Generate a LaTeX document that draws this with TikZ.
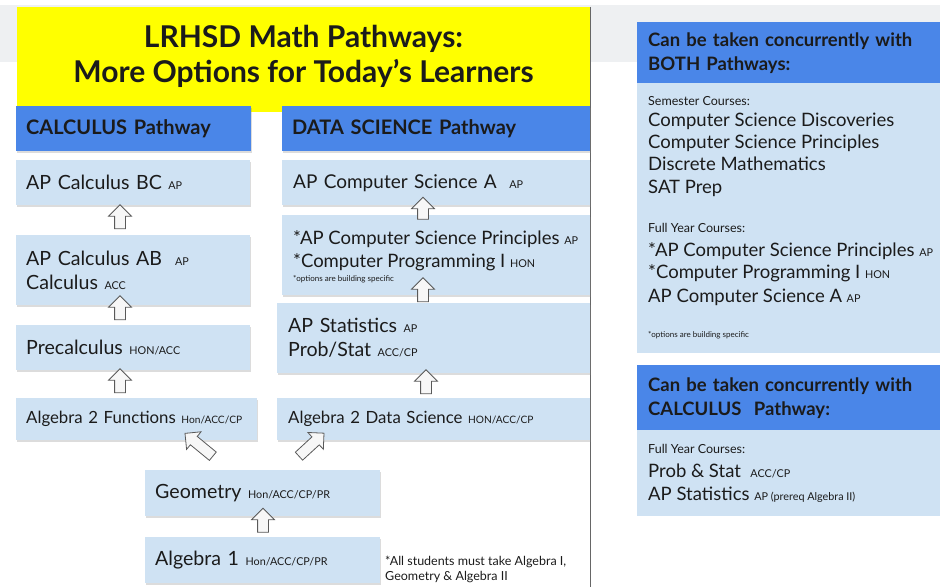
\documentclass[tikz,border=0pt]{standalone}
\usepackage{fontspec}
\setmainfont{Lato}
\usetikzlibrary{shapes.arrows,shadows,calc}
\definecolor{ylw}{HTML}{FFFF00}
\definecolor{hblue}{HTML}{4A86E8}
\definecolor{lblue}{HTML}{CFE2F3}
\definecolor{band}{HTML}{EEF0F2}
\definecolor{ink}{HTML}{1B1B1B}
\newcommand\fbig{\fontsize{19.6}{24}\selectfont}
\newcommand\fpan{\fontsize{18.5}{23}\selectfont}
\newcommand\fmid{\fontsize{16.8}{20}\selectfont}
\newcommand\fhdr{\bfseries\fontsize{20}{24}\selectfont}
\newcommand\fphdr{\bfseries\fontsize{18.5}{24}\selectfont}
\newcommand\fttl{\bfseries\fontsize{30}{35}\selectfont}
\newcommand\fsm{\fontsize{12.5}{15}\selectfont}
\newcommand\ftiny{\fontsize{8}{9}\selectfont}
\newcommand\tg[1]{{\fontsize{10.8}{12}\selectfont #1}}
\newcommand\tgs[1]{{\fontsize{10.2}{12}\selectfont #1}}
\begin{document}
\begin{tikzpicture}[x=1pt,y=-1pt,
  shd/.style={drop shadow={shadow xshift=0.6pt,shadow yshift=-2pt,opacity=0.28}},
  box/.style={fill=lblue,anchor=north west,inner ysep=0pt,inner xsep=10pt,align=left,text=ink,font=\fbig,shd},
  hdr/.style={fill=hblue,anchor=north west,inner ysep=0pt,inner xsep=10pt,align=left,text=ink,font=\fhdr,shd},
  panel/.style={fill=lblue,anchor=north west,inner sep=0pt},
  line/.style={anchor=base west,inner sep=0pt,text=ink},
  barrow/.style={single arrow,draw=black!65,fill=gray!6,line width=0.8pt,inner sep=5pt,
     single arrow head extend=6pt,minimum height=24pt}]
\useasboundingbox (0,0) rectangle (940,587);
% background band
\fill[band] (0,5) rectangle (940,62);
% title
\node[fill=ylw,anchor=north west,minimum width=573pt,minimum height=105pt,inner sep=0pt] (ttlbox) at (17,7) {};
\node[align=center,font=\fttl,text=ink,inner sep=0pt] (ttl) at (303.5,56) {LRHSD Math Pathways:\\More Options for Today’s Learners};
% divider
\draw[black!60,line width=1pt] (ttlbox.north east) -- (ttlbox.north east |- 0,587);
% headers
\node[hdr,minimum width=235pt,minimum height=45pt,text width=215pt] (calh) at (16,106) {CALCULUS Pathway};
\node[hdr,minimum width=308pt,minimum height=45pt,text width=288pt] (dsh) at (282,106) {DATA SCIENCE Pathway};
% calculus column
\node[box,minimum width=234pt,minimum height=45pt,text width=214pt] (bc) at (16,160) {AP Calculus BC \tg{AP}};
\node[box,minimum width=234pt,minimum height=70pt,text width=214pt] (ab) at (16,235) {AP Calculus AB\ \ \tg{AP}\\Calculus \tg{ACC}};
\node[box,minimum width=234pt,minimum height=45pt,text width=214pt] (pre) at (16,325) {Precalculus \tg{HON/ACC}};
\node[box,minimum width=241pt,minimum height=42pt,text width=221pt,font=\fmid] (a2f) at (16,398) {Algebra 2 Functions \tgs{Hon/ACC/CP}};
% data science column
\node[box,minimum width=308pt,minimum height=45pt,inner xsep=11pt,text width=286pt,font=\fontsize{19}{23}\selectfont] (csa) at (282,160) {AP Computer Science A\ \ \tg{AP}};
\node[box,minimum width=308pt,minimum height=80pt] (csp) at (282,215) {};
\node[line,font=\fpan] (csp1) at (293,244) {*AP Computer Science Principles \tg{AP}};
\node[line,font=\fpan] (csp2) at (293,267) {*Computer Programming I \tg{HON}};
\node[line,font=\ftiny] (csp3) at (293,281) {*options are building specific};
\node[box,minimum width=313pt,minimum height=70pt,inner xsep=11pt,text width=291pt] (st) at (277,303) {AP Statistics \tg{AP}\\Prob/Stat \tg{ACC/CP}};
\node[box,minimum width=313pt,minimum height=42pt,inner xsep=11pt,text width=291pt,font=\fmid] (a2d) at (277,398) {Algebra 2 Data Science \tgs{HON/ACC/CP}};
% common
\node[box,minimum width=235pt,minimum height=46pt,text width=215pt] (geo) at (145,470) {Geometry \tg{Hon/ACC/CP/PR}};
\node[box,minimum width=235pt,minimum height=46pt,text width=215pt] (alg) at (145,537) {Algebra 1 \tg{Hon/ACC/CP/PR}};
\node[anchor=north west,align=left,font=\fsm,inner sep=0pt,text=ink] (fn) at (385,556) {*All students must take Algebra I,\\Geometry \& Algebra II};
% block arrows
\node[barrow,rotate=90] (u1) at (120,219.5) {};
\node[barrow,rotate=90] (u2) at (120,310.5) {};
\node[barrow,rotate=90] (u3) at (120,383.5) {};
\node[barrow,rotate=90,minimum height=22pt] (v1) at (423,211) {};
\node[barrow,rotate=90] (v2) at (423,292.5) {};
\node[barrow,rotate=90] (v3) at (426,384.5) {};
\node[barrow,rotate=90] (w1) at (263,523) {};
\node[barrow,rotate=140.6,minimum height=36pt] (d1) at (201,446.5) {};
\node[barrow,rotate=42.6,minimum height=34pt] (d2) at (309.5,446.5) {};
% right panel 1
\node[hdr,font=\fphdr,minimum width=303pt,minimum height=61pt,inner xsep=11pt,text width=281pt] (h1) at (637,22) {Can be taken concurrently with\\BOTH Pathways:};
\node[panel,minimum width=303pt,minimum height=270pt] (p1) at (637,83) {};
\node[line,font=\fsm] (s1) at (648,105) {Semester Courses:};
\node[line,font=\fpan] (s2) at (648,126) {Computer Science Discoveries};
\node[line,font=\fpan] (s3) at (648,148) {Computer Science Principles};
\node[line,font=\fpan] (s4) at (648,170) {Discrete Mathematics};
\node[line,font=\fpan] (s5) at (648,193) {SAT Prep};
\node[line,font=\fsm] (f1) at (648,232) {Full Year Courses:};
\node[line,font=\fpan] (f2) at (648,256) {*AP Computer Science Principles \tg{AP}};
\node[line,font=\fpan] (f3) at (648,278) {*Computer Programming I \tg{HON}};
\node[line,font=\fpan] (f4) at (648,302) {AP Computer Science A \tg{AP}};
\node[line,font=\ftiny] (f5) at (648,337) {*options are building specific};
% right panel 2
\node[hdr,font=\fphdr,minimum width=303pt,minimum height=65pt,inner xsep=11pt,text width=281pt] (h2) at (637,365) {Can be taken concurrently with\\CALCULUS\ \ Pathway:};
\node[panel,minimum width=303pt,minimum height=86pt] (p2) at (637,430) {};
\node[line,font=\fsm] (g1) at (648,453) {Full Year Courses:};
\node[line,font=\fpan] (g2) at (648,477) {Prob \& Stat\ \ \tg{ACC/CP}};
\node[line,font=\fpan] (g3) at (648,500) {AP Statistics \tg{AP (prereq Algebra II)}};
\end{tikzpicture}
\end{document}
